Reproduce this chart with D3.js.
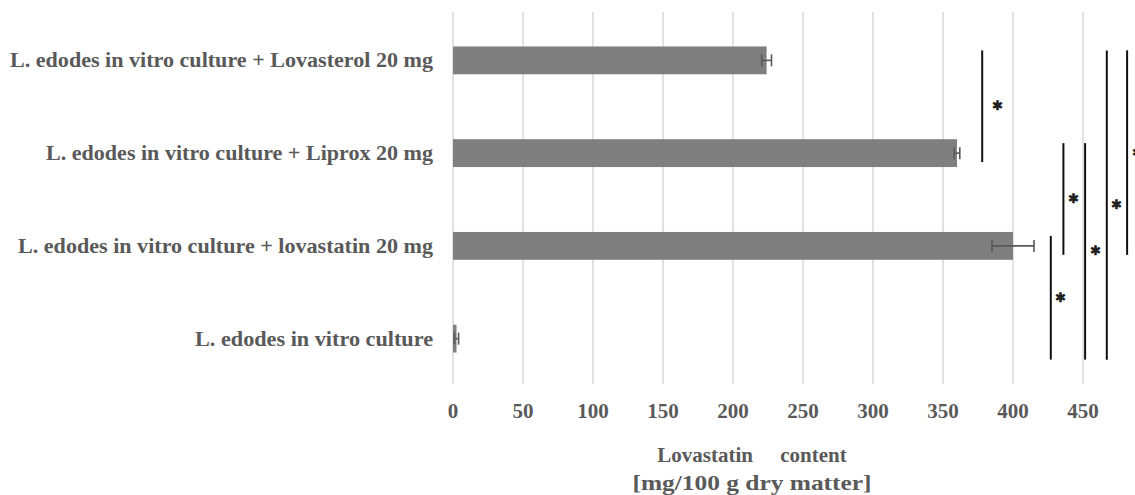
<!DOCTYPE html>
<html>
<head>
<meta charset="utf-8">
<script src="https://cdn.jsdelivr.net/npm/d3@7"></script>
<style>
  body { margin: 0; background: #fff; }
  svg { display: block; }
  text { font-family: "Liberation Serif", "Times New Roman", serif; font-weight: bold; fill: #595959; }
</style>
</head>
<body>
<div id="chart"></div>
<script>
// Width and height
var w = 1135;
var h = 495;

// data (top to bottom)
var categories = [
  "L. edodes in vitro culture + Lovasterol 20 mg",
  "L. edodes in vitro culture + Liprox 20 mg",
  "L. edodes in vitro culture + lovastatin 20 mg",
  "L. edodes in vitro culture"
];
var values = [224, 360, 400, 2.5];
var errors = [3.5, 2, 15, 1.5];
var ticks = [0, 50, 100, 150, 200, 250, 300, 350, 400, 450];

// significance brackets: category from / to and x position (in data units)
var sigFrom = [0, 1, 2, 1, 0, 0];
var sigTo = [1, 2, 3, 3, 3, 2];
var sigX = [378, 436, 427, 451.5, 467, 481.5];

var labelWidths = [423, 387, 415, 238];

var x = d3.scaleLinear()
  .domain([0, 450])
  .range([453, 1083]);

var y = d3.scaleBand()
  .domain(d3.range(categories.length))
  .range([14, 385])
  .paddingInner(0.7)
  .paddingOuter(0.35);

var svg = d3.select("#chart")
  .append("svg")
  .attr("width", w)
  .attr("height", h);

// gridlines
svg.append("g")
  .selectAll("line")
  .data(ticks)
  .enter()
  .append("line")
  .attr("x1", function (d) { return x(d); })
  .attr("x2", function (d) { return x(d); })
  .attr("y1", 12)
  .attr("y2", 384)
  .attr("stroke", "#d9d9d9")
  .attr("stroke-width", 1.5);

// tick labels
svg.append("g")
  .selectAll("text")
  .data(ticks)
  .enter()
  .append("text")
  .attr("x", function (d) { return x(d); })
  .attr("y", 418)
  .attr("text-anchor", "middle")
  .attr("font-size", 21)
  .text(function (d) { return d; });

// bars
svg.append("g")
  .selectAll("rect")
  .data(values)
  .enter()
  .append("rect")
  .attr("x", x(0))
  .attr("y", function (d, i) { return y(i); })
  .attr("width", function (d) { return x(d) - x(0); })
  .attr("height", y.bandwidth())
  .attr("fill", "#7f7f7f");

// error bars
var eb = svg.append("g")
  .attr("stroke", "#595959")
  .attr("stroke-width", 1.6);
values.forEach(function (v, i) {
  var cy = y(i) + y.bandwidth() / 2;
  var x0 = x(v - errors[i]), x1 = x(v + errors[i]);
  eb.append("line").attr("x1", x0).attr("x2", x1).attr("y1", cy).attr("y2", cy);
  eb.append("line").attr("x1", x0).attr("x2", x0).attr("y1", cy - 6).attr("y2", cy + 6);
  eb.append("line").attr("x1", x1).attr("x2", x1).attr("y1", cy - 6).attr("y2", cy + 6);
});

// category labels
svg.append("g")
  .selectAll("text")
  .data(categories)
  .enter()
  .append("text")
  .attr("x", 433)
  .attr("y", function (d, i) { return y(i) + y.bandwidth() / 2 + 7; })
  .attr("text-anchor", "end")
  .attr("font-size", 21)
  .attr("textLength", function (d, i) { return labelWidths[i]; })
  .attr("lengthAdjust", "spacingAndGlyphs")
  .text(function (d) { return d; });

// significance lines with stars
var sig = svg.append("g");
sigX.forEach(function (sx, i) {
  var top = y(sigFrom[i]) + y.bandwidth() / 2 - 10;
  var bottom = y(sigTo[i]) + y.bandwidth() / 2 + (sigTo[i] == 3 ? 21 : 9);
  var lx = x(sx);
  sig.append("line")
    .attr("x1", lx).attr("x2", lx)
    .attr("y1", top).attr("y2", bottom)
    .attr("stroke", "#111")
    .attr("stroke-width", 2);
  sig.append("text")
    .attr("x", lx + (i == 0 ? 15 : 10))
    .attr("y", (top + bottom) / 2 + 4)
    .attr("text-anchor", "middle")
    .attr("font-family", "DejaVu Sans")
    .attr("font-size", 13)
    .style("fill", "#222")
    .text("\u2731");
});

// axis title
svg.append("text")
  .attr("x", 752)
  .attr("y", 462)
  .attr("text-anchor", "middle")
  .attr("font-size", 21)
  .attr("word-spacing", 22)
  .text("Lovastatin content");
svg.append("text")
  .attr("x", 752)
  .attr("y", 490)
  .attr("text-anchor", "middle")
  .attr("font-size", 21)
  .attr("textLength", 239)
  .attr("lengthAdjust", "spacingAndGlyphs")
  .text("[mg/100 g dry matter]");
</script>
</body>
</html>
